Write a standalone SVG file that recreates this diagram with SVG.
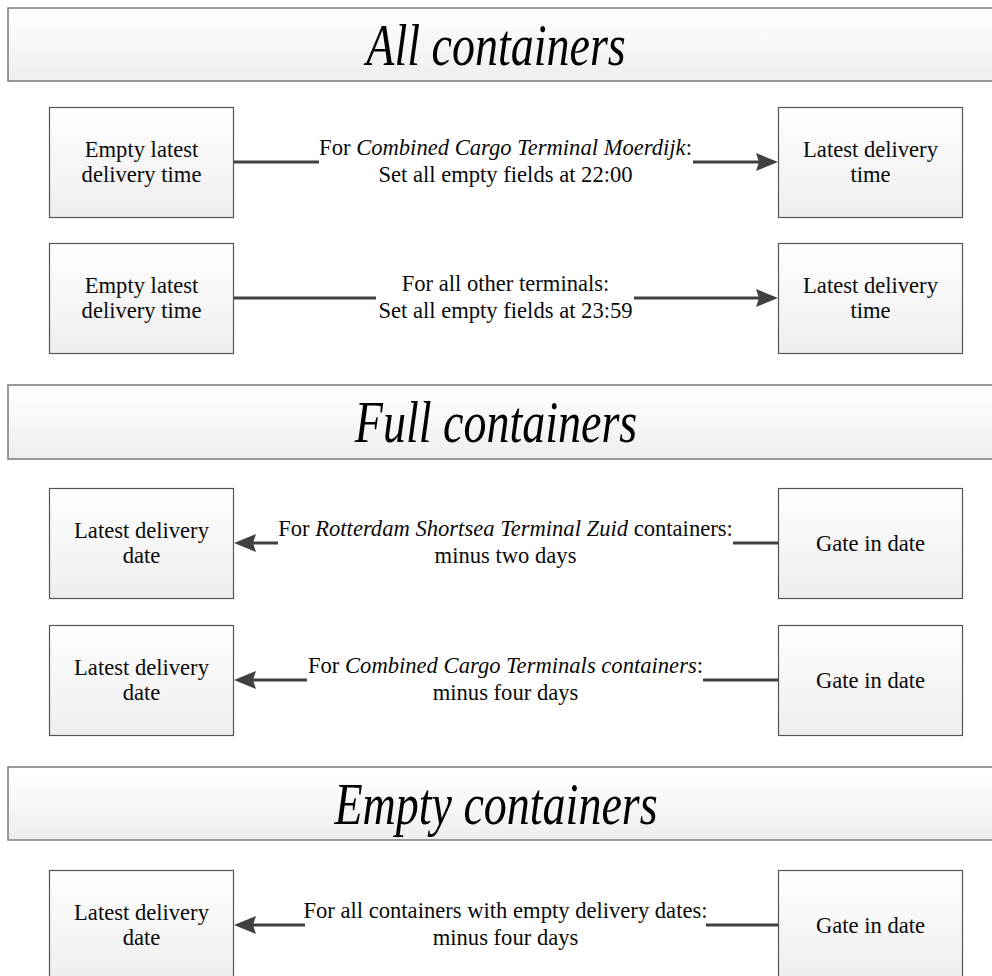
<svg xmlns="http://www.w3.org/2000/svg" width="992" height="976" viewBox="0 0 992 976">
  <defs>
    <linearGradient id="fillGrad" x1="0" y1="0" x2="0" y2="1">
      <stop offset="0" stop-color="#ffffff"/>
      <stop offset="1" stop-color="#eeeeee"/>
    </linearGradient>
    <marker id="arrow" markerUnits="userSpaceOnUse" markerWidth="24" markerHeight="20" refX="12" refY="9" orient="auto">
      <path d="M0,0 L22,9 L0,18 L3,9 z" fill="#404040"/>
    </marker>
    <style>
      .band { fill: url(#fillGrad); stroke: #7a7a7a; stroke-width: 1.5; }
      .box { fill: url(#fillGrad); stroke: #555555; stroke-width: 1.2; }
      text { font-family: 'Liberation Serif', Tinos, 'Times New Roman', Times, serif; }
      .title { font-style: italic; font-size: 59px; fill: #000; text-anchor: middle; }
      .lbl { font-size: 22.6px; fill: #0a0a0a; text-anchor: middle; }
      .it { font-style: italic; }
      .link { stroke: #404040; stroke-width: 3; fill: none; }
      .head { stroke: #404040; stroke-width: 3; fill: none; marker-end: url(#arrow); }
    </style>
  </defs>

  <!-- section bands -->
  <g id="band-all">
    <rect class="band" x="8" y="8" width="1000" height="73"/>
    <text class="title" transform="translate(496,65) scale(0.78,1)">All containers</text>
  </g>
  <g id="band-full">
    <rect class="band" x="8" y="385" width="1000" height="74"/>
    <text class="title" transform="translate(496,442) scale(0.78,1)">Full containers</text>
  </g>
  <g id="band-empty">
    <rect class="band" x="8" y="767" width="1000" height="73"/>
    <text class="title" transform="translate(496,824) scale(0.78,1)">Empty containers</text>
  </g>

  <!-- row 1 -->
  <g id="n1-src">
    <rect class="box" x="49.5" y="107.5" width="184" height="110"/>
    <text class="lbl" x="141.5" y="157">Empty latest</text>
    <text class="lbl" x="141.5" y="182">delivery time</text>
  </g>
  <g id="n1-dst">
    <rect class="box" x="778.5" y="107.5" width="184" height="110"/>
    <text class="lbl" x="870.5" y="157">Latest delivery</text>
    <text class="lbl" x="870.5" y="182">time</text>
  </g>

  <!-- row 2 -->
  <g id="n2-src">
    <rect class="box" x="49.5" y="243.5" width="184" height="110"/>
    <text class="lbl" x="141.5" y="293">Empty latest</text>
    <text class="lbl" x="141.5" y="318">delivery time</text>
  </g>
  <g id="n2-dst">
    <rect class="box" x="778.5" y="243.5" width="184" height="110"/>
    <text class="lbl" x="870.5" y="293">Latest delivery</text>
    <text class="lbl" x="870.5" y="318">time</text>
  </g>

  <!-- row 3 -->
  <g id="n3-dst">
    <rect class="box" x="49.5" y="488.5" width="184" height="110"/>
    <text class="lbl" x="141.5" y="538">Latest delivery</text>
    <text class="lbl" x="141.5" y="563">date</text>
  </g>
  <g id="n3-src">
    <rect class="box" x="778.5" y="488.5" width="184" height="110"/>
    <text class="lbl" x="870.5" y="551">Gate in date</text>
  </g>

  <!-- row 4 -->
  <g id="n4-dst">
    <rect class="box" x="49.5" y="625.5" width="184" height="110"/>
    <text class="lbl" x="141.5" y="675">Latest delivery</text>
    <text class="lbl" x="141.5" y="700">date</text>
  </g>
  <g id="n4-src">
    <rect class="box" x="778.5" y="625.5" width="184" height="110"/>
    <text class="lbl" x="870.5" y="688">Gate in date</text>
  </g>

  <!-- row 5 -->
  <g id="n5-dst">
    <rect class="box" x="49.5" y="870.5" width="184" height="110"/>
    <text class="lbl" x="141.5" y="920">Latest delivery</text>
    <text class="lbl" x="141.5" y="945">date</text>
  </g>
  <g id="n5-src">
    <rect class="box" x="778.5" y="870.5" width="184" height="110"/>
    <text class="lbl" x="870.5" y="933">Gate in date</text>
  </g>

  <!-- connectors, broken around their labels -->
  <g id="connectors">
    <line class="link" x1="234" y1="162" x2="319" y2="162"/>
    <line class="head" x1="693" y1="162" x2="768" y2="162"/>
    <text class="lbl" x="505.5" y="155">For <tspan class="it">Combined Cargo Terminal Moerdijk</tspan>:</text>
    <text class="lbl" x="505.5" y="181.5">Set all empty fields at 22:00</text>

    <line class="link" x1="234" y1="298" x2="376" y2="298"/>
    <line class="head" x1="634" y1="298" x2="768" y2="298"/>
    <text class="lbl" x="505.5" y="291">For all other terminals:</text>
    <text class="lbl" x="505.5" y="317.5">Set all empty fields at 23:59</text>

    <line class="link" x1="733" y1="543" x2="778" y2="543"/>
    <line class="head" x1="278" y1="543" x2="244" y2="543"/>
    <text class="lbl" x="505.5" y="536">For <tspan class="it">Rotterdam Shortsea Terminal Zuid</tspan> containers:</text>
    <text class="lbl" x="505.5" y="562.5">minus two days</text>

    <line class="link" x1="703" y1="680" x2="778" y2="680"/>
    <line class="head" x1="307" y1="680" x2="244" y2="680"/>
    <text class="lbl" x="505.5" y="673">For <tspan class="it">Combined Cargo Terminals containers</tspan>:</text>
    <text class="lbl" x="505.5" y="699.5">minus four days</text>

    <line class="link" x1="706" y1="925" x2="778" y2="925"/>
    <line class="head" x1="305" y1="925" x2="244" y2="925"/>
    <text class="lbl" x="505.5" y="918">For all containers with empty delivery dates:</text>
    <text class="lbl" x="505.5" y="944.5">minus four days</text>
  </g>
</svg>
